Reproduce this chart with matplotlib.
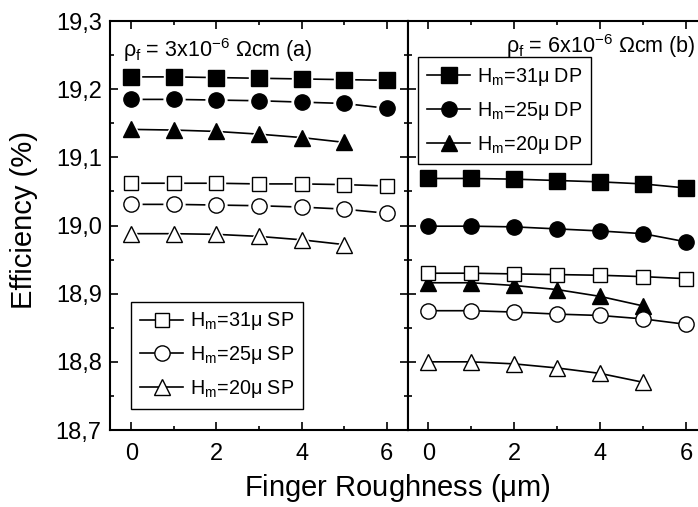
import numpy as np
import matplotlib
matplotlib.use('Agg')
import matplotlib.pyplot as plt
from matplotlib.ticker import MultipleLocator, FixedLocator

plt.rcParams['font.family'] = ['Liberation Sans', 'DejaVu Sans']
plt.rcParams['mathtext.fontset'] = 'custom'
plt.rcParams['mathtext.rm'] = 'Liberation Sans'
plt.rcParams['mathtext.it'] = 'Liberation Sans'
plt.rcParams['mathtext.bf'] = 'Liberation Sans:bold'

# finger roughness (um)
rough = [0, 1, 2, 3, 4, 5, 6]

# (a) rho_f = 3e-6 Ohm cm
a_dp31 = [19.218, 19.218, 19.217, 19.216, 19.215, 19.214, 19.213]
a_dp25 = [19.185, 19.185, 19.184, 19.183, 19.181, 19.179, 19.172]
a_dp20 = [19.141, 19.140, 19.138, 19.134, 19.129, 19.122]
a_sp31 = [19.062, 19.062, 19.062, 19.061, 19.061, 19.060, 19.058]
a_sp25 = [19.031, 19.031, 19.030, 19.029, 19.027, 19.024, 19.018]
a_sp20 = [18.988, 18.988, 18.987, 18.984, 18.979, 18.972]

# (b) rho_f = 6e-6 Ohm cm
b_dp31 = [19.069, 19.069, 19.068, 19.066, 19.064, 19.061, 19.055]
b_dp25 = [18.999, 18.999, 18.998, 18.995, 18.992, 18.988, 18.976]
b_dp20 = [18.916, 18.916, 18.912, 18.906, 18.896, 18.882]
b_sp31 = [18.930, 18.930, 18.929, 18.928, 18.927, 18.925, 18.922]
b_sp25 = [18.875, 18.875, 18.873, 18.870, 18.868, 18.863, 18.855]
b_sp20 = [18.800, 18.800, 18.797, 18.791, 18.783, 18.770]

dp_labels = [r'H$_\mathrm{m}$=31$\mu$ DP', r'H$_\mathrm{m}$=25$\mu$ DP', r'H$_\mathrm{m}$=20$\mu$ DP']
sp_labels = [r'H$_\mathrm{m}$=31$\mu$ SP', r'H$_\mathrm{m}$=25$\mu$ SP', r'H$_\mathrm{m}$=20$\mu$ SP']
y_ticks = [18.7, 18.8, 18.9, 19.0, 19.1, 19.2, 19.3]
y_ticklabels = ['18,7', '18,8', '18,9', '19,0', '19,1', '19,2', '19,3']
x_ticks = [0, 2, 4, 6]

W, H = 698, 507
fig = plt.figure(figsize=(W/100, H/100), dpi=100)
ax_a = fig.add_axes([110/W, 1-430/H, 298/W, 409/H])
ax_b = fig.add_axes([408/W, 1-430/H, 291/W, 409/H])

markers = ['s', 'o', '^']
filled_ms = {'s': 11, 'o': 11, '^': 12}
open_ms = {'s': 9.5, 'o': 11, '^': 12}


def draw_series(ax, y, marker, filled, label, gap):
    x = rough[:len(y)]
    face = 'black' if filled else 'white'
    ms = filled_ms[marker] if filled else open_ms[marker]
    ax.plot(x, y, '-', color='black', lw=1.2, zorder=2)
    if gap:
        # white halo so the line stops short of each marker
        ax.plot(x, y, ls='none', marker=marker, ms=ms+4, mfc='white', mec='white', zorder=3)
    ax.plot(x, y, ls='none', marker=marker, ms=ms, mfc=face, mec='black', mew=1.0, zorder=4)
    # legend handle
    ax.plot([], [], '-', color='black', lw=1.2, marker=marker, ms=ms, mfc=face, mec='black',
            mew=1.0, label=label)


for ys, m, lab in zip([a_dp31, a_dp25, a_dp20], markers, dp_labels):
    draw_series(ax_a, ys, m, True, '_' + lab, True)
for ys, m, lab in zip([a_sp31, a_sp25, a_sp20], markers, sp_labels):
    draw_series(ax_a, ys, m, False, lab, True)
for ys, m, lab in zip([b_dp31, b_dp25, b_dp20], markers, dp_labels):
    draw_series(ax_b, ys, m, True, lab, False)
for ys, m, lab in zip([b_sp31, b_sp25, b_sp20], markers, sp_labels):
    draw_series(ax_b, ys, m, False, '_' + lab, False)

for ax in (ax_a, ax_b):
    ax.set_ylim(18.7, 19.3)
    ax.yaxis.set_major_locator(FixedLocator(y_ticks))
    ax.yaxis.set_minor_locator(MultipleLocator(0.05))
    ax.xaxis.set_major_locator(FixedLocator(x_ticks))
    ax.xaxis.set_minor_locator(MultipleLocator(1))
    ax.tick_params(which='both', direction='in', top=True, right=True, width=1.2,
                   labelsize=17, colors='black')
    ax.tick_params(axis='y', pad=6)
    ax.tick_params(axis='x', pad=9)
    ax.tick_params(which='major', length=6)
    ax.tick_params(which='minor', length=3)
    for s in ax.spines.values():
        s.set_linewidth(1.5)

ax_a.set_xlim(-0.5, 6.5)
ax_b.set_xlim(-0.47, 6.3)
ax_a.set_yticklabels(y_ticklabels)
ax_b.tick_params(labelleft=False, right=False, which='both')
ax_b.spines['right'].set_visible(False)

ax_a.text(0.044, 0.93, r'$\rho_\mathrm{f}$ = 3x10$^{-6}$ $\Omega$cm (a)', transform=ax_a.transAxes,
          fontsize=15.5, va='center', ha='left')
fig.text(696/W, 1-46/H, r'$\rho_\mathrm{f}$ = 6x10$^{-6}$ $\Omega$cm (b)', fontsize=15.5,
         va='center', ha='right')

leg_kw = dict(fontsize=14.2, numpoints=1, fancybox=False, edgecolor='black', framealpha=1,
              borderaxespad=0, handlelength=2.2, handletextpad=0.35, labelspacing=0.6,
              borderpad=0.45)
lg_b = ax_b.legend(loc='upper left', bbox_to_anchor=(418/W, 1-57/H),
                   bbox_transform=fig.transFigure, **leg_kw)
lg_a = ax_a.legend(loc='lower left', bbox_to_anchor=(131/W, 1-409/H),
                   bbox_transform=fig.transFigure, **leg_kw)
for lg in (lg_a, lg_b):
    lg.get_frame().set_linewidth(1.0)

fig.text(24/W, 1-220/H, 'Efficiency (%)', rotation=90, fontsize=21, va='center', ha='center')
fig.text(397/W, 1-488/H, r'Finger Roughness ($\mu$m)', fontsize=21, va='center', ha='center')

fig.savefig('out.png', dpi=100)
